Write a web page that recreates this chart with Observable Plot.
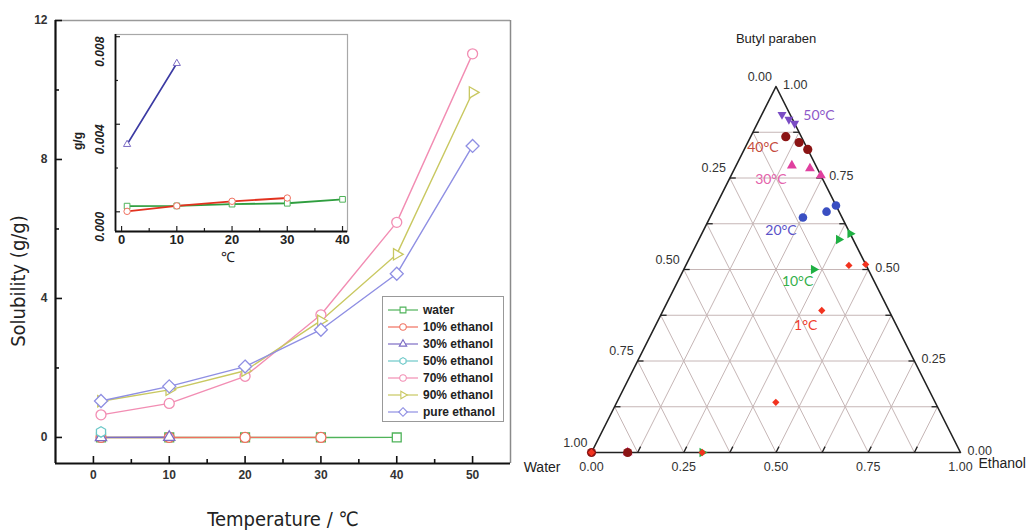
<!DOCTYPE html>
<html><head><meta charset="utf-8">
<script src="https://cdn.jsdelivr.net/npm/d3@7"></script>
<script src="https://cdn.jsdelivr.net/npm/@observablehq/plot@0.6"></script>
<style>
body{margin:0;background:#fff;}
#chart{position:relative;width:1034px;height:532px;overflow:hidden;background:#fff;}
#chart svg{position:absolute;background:transparent;overflow:visible;}
</style></head><body><div id="chart"></div>
<script>
// ================= LEFT CHART DATA =================
const seriesNames = ["water","10% ethanol","30% ethanol","50% ethanol","70% ethanol","90% ethanol","pure ethanol"];
const seriesColors = ["#4fb35a","#f0705f","#7c6cc4","#6cc8c8","#f28db3","#c9c861","#8f8fe3"];
const insetColors = ["#2f9e3f","#e2321f","#3b3aa3"];
const waterTemp = [1,10,20,30,40];
const waterSol  = [0.00026,0.00027,0.00035,0.00039,0.00057];
const eth10Temp = [1,10,20,30];
const eth10Sol  = [0.00002,0.00027,0.00048,0.00063];
const eth30Temp = [1,10];
const eth30Sol  = [0.00308,0.00678];
const eth50Temp = [1];
const eth50Sol  = [0.16];
const eth70Temp = [1,10,20,30,40,50];
const eth70Sol  = [0.65,0.98,1.76,3.53,6.19,11.04];
const eth90Temp = [1,10,20,30,40,50];
const eth90Sol  = [1.04,1.37,1.92,3.36,5.27,9.93];
const pureTemp  = [1,10,20,30,40,50];
const pureSol   = [1.05,1.47,2.04,3.10,4.71,8.39];
const mainXTicks = [0,10,20,30,40,50];
const mainXMinor = [5,15,25,35,45];
const mainYTicks = [0,4,8,12];
const mainYMinor = [2,6,10];
const insetXTicks = [0,10,20,30,40];
const insetXMinor = [5,15,25,35];
const insetYTicks = [0,0.004,0.008];
const insetYTickLabels = ["0.000","0.004","0.008"];
const insetYMinor = [0.002,0.006];

// ================= TERNARY DATA (fractions) =================
const tempLabels = ["1°C","10°C","20°C","30°C","40°C","50°C"];
const tempColors = ["#f2331f","#1fb043","#3a4fc2","#e0409f","#8b1414","#7a4cc4"];
const tempLabelColors = ["#f03c2c","#33b04a","#5a52c8","#e463ab","#c54b3c","#8d58c8"];
const paraben1 = [0.514,0.511,0.388,0.137,0.0,0.0];
const ethanol1 = [0.486,0.442,0.430,0.431,0.300,0.0];
const paraben10 = [0.598,0.582,0.500,0.0];
const ethanol10 = [0.402,0.379,0.352,0.300];
const paraben20 = [0.675,0.658,0.642];
const ethanol20 = [0.325,0.308,0.252];
const paraben30 = [0.757,0.776,0.784,0.0];
const ethanol30 = [0.243,0.204,0.151,0.098];
const paraben40 = [0.828,0.847,0.863,0.0,0.0];
const ethanol40 = [0.172,0.139,0.095,0.098,0.0];
const paraben50 = [0.899,0.910,0.9235];
const ethanol50 = [0.101,0.080,0.0545];
const labelParaben = [0.347,0.467,0.607,0.746,0.833,0.921];
const labelEthanol = [0.407,0.325,0.210,0.113,0.048,0.156];
const ternTicks = [0,0.25,0.5,0.75,1];
const ternTickLabels = ["0.00","0.25","0.50","0.75","1.00"];
const ternGrid = [0.125,0.25,0.375,0.5,0.625,0.75,0.875];
const ternEdgeTicks = [0.125,0.25,0.375,0.5,0.625,0.75,0.875];

// ================= SYMBOLS =================
const R = size => Math.sqrt(size/Math.PI)*1.3;
const triUp = {draw(c,s){const r=R(s);c.moveTo(0,-r);c.lineTo(r*0.866,r/2);c.lineTo(-r*0.866,r/2);c.closePath();}};
const triDown = {draw(c,s){const r=R(s);c.moveTo(0,r);c.lineTo(r*0.866,-r/2);c.lineTo(-r*0.866,-r/2);c.closePath();}};
const triRight = {draw(c,s){const r=R(s);c.moveTo(r,0);c.lineTo(-r/2,-r*0.866);c.lineTo(-r/2,r*0.866);c.closePath();}};
const hexa = {draw(c,s){const r=Math.sqrt(s/Math.PI)*1.05;for(let k=0;k<6;k++){const a=Math.PI/6+k*Math.PI/3;const x=r*Math.cos(a),y=r*Math.sin(a);k?c.lineTo(x,y):c.moveTo(x,y);}c.closePath();}};
const diamondSq = {draw(c,s){const r=Math.sqrt(s/Math.PI)*1.3;c.moveTo(0,-r);c.lineTo(r,0);c.lineTo(0,r);c.lineTo(-r,0);c.closePath();}};
const seriesSymbols = [d3.symbolSquare, d3.symbolCircle, triUp, hexa, d3.symbolCircle, triRight, diamondSq];
const plotSymbols = ["square","circle",triUp,hexa,"circle",triRight,diamondSq];

const seriesTemp = [waterTemp,eth10Temp,eth30Temp,eth50Temp,eth70Temp,eth90Temp,pureTemp];
const seriesSol = [waterSol,eth10Sol,eth30Sol,eth50Sol,eth70Sol,eth90Sol,pureSol];
const rows = seriesNames.map((name,i)=>seriesTemp[i].map((t,j)=>({name,t,s:seriesSol[i][j]})));

const root = document.getElementById("chart");
const sans = "'Liberation Sans', Arial, sans-serif";
const narrow = "'Liberation Sans Narrow', 'DejaVu Sans Condensed', 'Liberation Sans', sans-serif";

// ================= MAIN CHART =================
const mW=520,mH=532,mL=55,mR=10,mT=20,mB=69;
const pw=mW-mL-mR, ph=mH-mT-mB;
const yMin=-0.75;
const mainMarks = [
  Plot.ruleY([12],{stroke:"#9a9a9a",strokeWidth:1.5}),
  Plot.ruleX([55],{stroke:"#8a8a8a",strokeWidth:1.5}),
  Plot.tickX(mainXTicks,{x:d=>d,insetTop:ph-7,stroke:"#111",strokeWidth:1.6}),
  Plot.tickX(mainXMinor,{x:d=>d,insetTop:ph-4,stroke:"#111",strokeWidth:1.6}),
  Plot.tickY(mainYTicks,{y:d=>d,insetRight:pw-7,stroke:"#111",strokeWidth:1.6}),
  Plot.tickY(mainYMinor,{y:d=>d,insetRight:pw-4,stroke:"#111",strokeWidth:1.6}),
  Plot.ruleX([-5],{stroke:"#111",strokeWidth:2.2}),
  Plot.ruleY([yMin],{stroke:"#111",strokeWidth:2.2})
];
rows.forEach((r,i)=>{
  mainMarks.push(Plot.line(r,{x:"t",y:"s",stroke:seriesColors[i],strokeWidth:1.4}));
});
rows.forEach((r,i)=>{
  mainMarks.push(Plot.dot(r,{x:"t",y:"s",stroke:seriesColors[i],fill:"white",strokeWidth:1.3,r:5,symbol:plotSymbols[i]}));
});
mainMarks.push(Plot.text(["Solubility (g/g)"],{frameAnchor:"left",textAnchor:"middle",dx:-37,dy:39,rotate:-90,fontSize:20,fontFamily:narrow,fontWeight:"normal",fill:"#222"}));
mainMarks.push(Plot.text(["Temperature / ℃"],{frameAnchor:"bottom",textAnchor:"middle",dy:62,fontSize:20,fontFamily:narrow,fontWeight:"normal",fill:"#222"}));
const main = Plot.plot({
  width:mW,height:mH,marginLeft:mL,marginRight:mR,marginTop:mT,marginBottom:mB,
  style:{fontFamily:sans,fontSize:"12px",fontWeight:"bold",color:"#333",background:"transparent"},
  x:{domain:[-5,55],ticks:mainXTicks,tickSize:0,tickPadding:7,label:null},
  y:{domain:[yMin,12],ticks:mainYTicks,tickSize:0,tickPadding:8,label:null},
  marks:mainMarks
});
main.style.left="0px";main.style.top="0px";
root.appendChild(main);

// ================= INSET =================
const iW=360,iH=280,iL=115,iR=13,iT=34,iB=49;
const ipw=iW-iL-iR, iph=iH-iT-iB;
const insetMarks = [
  Plot.frame({fill:"white",stroke:"#a8a8a8",strokeWidth:1.2}),
  Plot.tickX(insetXTicks,{x:d=>d,insetTop:iph-5,stroke:"#222",strokeWidth:1.2}),
  Plot.tickX(insetXMinor,{x:d=>d,insetTop:iph-3,stroke:"#222",strokeWidth:1.2}),
  Plot.tickY(insetYTicks,{y:d=>d,insetRight:ipw-5,stroke:"#222",strokeWidth:1.2}),
  Plot.tickY(insetYMinor,{y:d=>d,insetRight:ipw-3,stroke:"#222",strokeWidth:1.2}),
  Plot.ruleX([-1.1],{stroke:"#111",strokeWidth:1.8}),
  Plot.ruleY([-0.0009],{stroke:"#111",strokeWidth:1.8})
];
[0,1,2].forEach(i=>{
  insetMarks.push(Plot.line(rows[i],{x:"t",y:"s",stroke:insetColors[i],strokeWidth:1.8}));
});
[0,1,2].forEach(i=>{
  insetMarks.push(Plot.dot(rows[i],{x:"t",y:"s",stroke:seriesColors[i],fill:"white",strokeWidth:1,r:3.2,symbol:plotSymbols[i]}));
});
insetMarks.push(Plot.text(insetYTicks,{y:d=>d,text:(d,i)=>insetYTickLabels[i],frameAnchor:"left",dx:-15,rotate:-90,textAnchor:"end",fontSize:12,fontWeight:"bold",fontStyle:"italic",fill:"#222"}));
insetMarks.push(Plot.text(["g/g"],{frameAnchor:"left",textAnchor:"middle",dx:-37,dy:8,rotate:-90,fontSize:12,fontWeight:"bold",fill:"#222"}));
insetMarks.push(Plot.text(["℃"],{frameAnchor:"bottom",textAnchor:"middle",dx:-4,dy:30,fontSize:14,fontWeight:"normal",fill:"#222"}));
const inset = Plot.plot({
  width:iW,height:iH,marginLeft:iL,marginRight:iR,marginTop:iT,marginBottom:iB,
  style:{fontFamily:sans,fontSize:"13px",fontWeight:"bold",color:"#222",background:"transparent"},
  x:{domain:[-1.1,40.9],ticks:insetXTicks,tickSize:0,tickPadding:3,label:null},
  y:{domain:[-0.0009,0.0081],axis:null},
  marks:insetMarks
});
inset.style.left="0px";inset.style.top="0px";
root.appendChild(inset);

// ================= LEGEND =================
const leg = d3.create("svg").attr("width",122).attr("height",126)
  .style("left","382px").style("top","296px");
leg.append("rect").attr("x",0.5).attr("y",0.5).attr("width",121).attr("height",125)
  .attr("fill","white").attr("stroke","#999").attr("stroke-width",1);
seriesNames.forEach((name,i)=>{
  const y = 14 + i*17;
  leg.append("line").attr("x1",6).attr("x2",36).attr("y1",y).attr("y2",y)
    .attr("stroke",seriesColors[i]).attr("stroke-width",1.2);
  leg.append("path").attr("transform",`translate(21,${y})`)
    .attr("d",d3.symbol().type(seriesSymbols[i]).size(Math.PI*3.3*3.3)())
    .attr("fill","white").attr("stroke",seriesColors[i]).attr("stroke-width",1.1);
  leg.append("text").attr("x",41).attr("y",y).attr("dy","0.35em")
    .attr("font-family",sans).attr("font-size",12).attr("font-weight","bold").attr("fill","#222")
    .text(name);
});
root.appendChild(leg.node());

// ================= TERNARY =================
const tx = (e,b) => e + b/2;
const paraSets = [paraben1,paraben10,paraben20,paraben30,paraben40,paraben50];
const ethSets = [ethanol1,ethanol10,ethanol20,ethanol30,ethanol40,ethanol50];
const ternSymbols = [diamondSq,triRight,"circle",triUp,"circle",triDown];
const ternR = [2.8,4.2,4.3,4.4,4.6,4.0];
const ternPts = tempLabels.map((lab,i)=>paraSets[i].map((b,j)=>({temp:lab,X:tx(ethSets[i][j],b),Y:b})));
const gridLinks = ternGrid.flatMap(v=>[
  {x1:tx(0,v),y1:v,x2:tx(1-v,v),y2:v},
  {x1:tx(v,0),y1:0,x2:tx(v,1-v),y2:1-v},
  {x1:tx(1-v,0),y1:0,x2:tx(0,1-v),y2:1-v}
]);
const vertices = [{e:0,b:0},{e:1,b:0},{e:0,b:1},{e:0,b:0}].map(d=>({X:tx(d.e,d.b),Y:d.b}));
const tl = 0.016;
const edgeTicks = ternEdgeTicks.flatMap(v=>[
  {x1:tx(v,0),y1:0,x2:tx(v,tl),y2:tl},
  {x1:tx(0,v),y1:v,x2:tx(tl,v),y2:v},
  {x1:tx(1-v,v),y1:v,x2:tx(1-v-tl,v),y2:v}
]);
const bottomLbl = ternTicks.map((v,i)=>({X:tx(v,0),Y:0,t:ternTickLabels[i]}));
const leftLbl = ternTicks.map((v,i)=>({X:tx(0,1-v),Y:1-v,t:ternTickLabels[i]}));
const rightLbl = ternTicks.map((v,i)=>({X:tx(1-v,v),Y:v,t:ternTickLabels[i]}));
const tempLbl = tempLabels.map((t,i)=>({X:tx(labelEthanol[i],labelParaben[i]),Y:labelParaben[i],t,c:tempLabelColors[i]}));

const ternMarks = [
  Plot.link(gridLinks,{x1:"x1",y1:"y1",x2:"x2",y2:"y2",stroke:"#c6b6b6",strokeWidth:1}),
  Plot.link(edgeTicks,{x1:"x1",y1:"y1",x2:"x2",y2:"y2",stroke:"#222",strokeWidth:1.3}),
  Plot.line(vertices,{x:"X",y:"Y",stroke:"#222",strokeWidth:1.6})
];
[1,2,3,4,5,0].forEach(i=>{
  ternMarks.push(Plot.dot(ternPts[i],{x:"X",y:"Y",fill:tempColors[i],stroke:"none",r:ternR[i],symbol:ternSymbols[i]}));
});
ternMarks.push(
  Plot.text(bottomLbl,{x:"X",y:"Y",text:"t",dy:14,fontSize:12.5,fill:"#333"}),
  Plot.text(leftLbl,{x:"X",y:"Y",text:"t",dx:-4,dy:-10,textAnchor:"end",fontSize:12.5,fill:"#333"}),
  Plot.text(rightLbl,{x:"X",y:"Y",text:"t",dx:7,dy:-2,textAnchor:"start",fontSize:12.5,fill:"#333"}),
  Plot.text(tempLbl,{x:"X",y:"Y",text:"t",fill:"c",fontSize:14,fontFamily:"Lato, 'Open Sans', sans-serif"}),
  Plot.text(["Butyl paraben"],{x:()=>tx(0,1),y:()=>1,dy:-48,fontSize:13,fill:"#222"}),
  Plot.text(["Water"],{x:()=>tx(0,0),y:()=>0,dx:-31,dy:15,textAnchor:"end",fontSize:14,fill:"#222"}),
  Plot.text(["Ethanol"],{x:()=>tx(1,0),y:()=>0,dx:18,dy:11,textAnchor:"start",fontSize:14,fill:"#222"})
);
const tern = Plot.plot({
  width:514,height:532,marginLeft:71,marginRight:74,marginTop:86,marginBottom:80,
  style:{fontFamily:sans,fontSize:"12px",background:"transparent"},
  x:{domain:[0,1],axis:null},
  y:{domain:[0,1],axis:null},
  marks:ternMarks
});
tern.style.left="520px";tern.style.top="0px";
root.appendChild(tern);
</script></body></html>
